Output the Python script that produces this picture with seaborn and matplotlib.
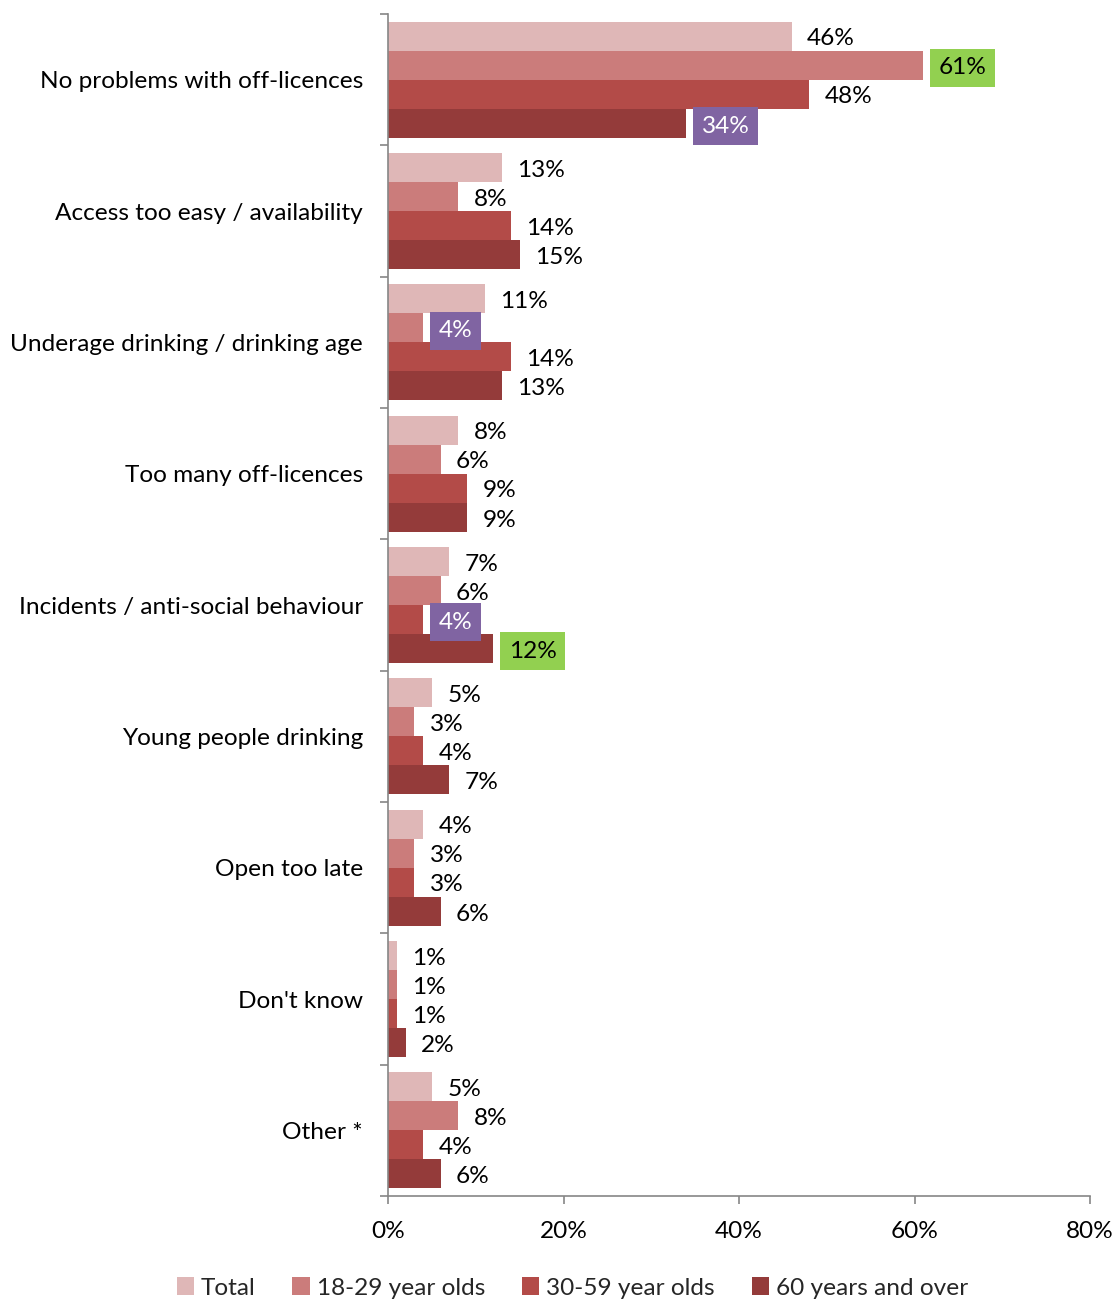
import matplotlib
matplotlib.use("Agg")
import matplotlib.pyplot as plt
from matplotlib import font_manager
from matplotlib.patches import Patch
from matplotlib.ticker import FixedLocator
import seaborn as sns
import pandas as pd

categories = [
    "No problems with off-licences",
    "Access too easy / availability",
    "Underage drinking / drinking age",
    "Too many off-licences",
    "Incidents / anti-social behaviour",
    "Young people drinking",
    "Open too late",
    "Don't know",
    "Other *",
]
groups = ["Total", "18-29 year olds", "30-59 year olds", "60 years and over"]
total = [46, 13, 11, 8, 7, 5, 4, 1, 5]
age_18_29 = [61, 8, 4, 6, 6, 3, 3, 1, 8]
age_30_59 = [48, 14, 14, 9, 4, 4, 3, 1, 4]
age_60_plus = [34, 15, 13, 9, 12, 7, 6, 2, 6]
x_ticks = [0, 20, 40, 60, 80]

# highest (green) and lowest (purple) callouts: (category index, group index)
high_marks = [(0, 1), (4, 3)]
low_marks = [(0, 3), (2, 1), (4, 2)]

colors = ["#DFB7B7", "#CB7C7B", "#B34B48", "#943B3A"]
GREEN = "#92D050"
PURPLE = "#8064A2"

series = [total, age_18_29, age_30_59, age_60_plus]
df = pd.DataFrame(
    [(c, g, v[i]) for g, v in zip(groups, series) for i, c in enumerate(categories)],
    columns=["category", "group", "value"],
)

sns.set_theme(style="white")
available = {f.name for f in font_manager.fontManager.ttflist}
base = "Liberation Sans Narrow" if "Liberation Sans Narrow" in available else "Lato"
plt.rcParams["font.family"] = [base, "DejaVu Sans"]
FS = 17.6

fig = plt.figure(figsize=(11.16, 13.0), dpi=100)
ax = fig.add_axes([388 / 1116, 1 - 1196 / 1300, (1090 - 388) / 1116, (1196 - 14) / 1300])

sns.barplot(
    data=df, x="value", y="category", hue="group", order=categories,
    hue_order=groups, palette=colors, saturation=1, width=0.885,
    orient="h", legend=False, linewidth=0, ax=ax,
)

ax.set_xlim(0, 80)
ax.set_ylim(len(categories) - 0.5, -0.5)
ax.set_xticks(x_ticks)
ax.set_xticklabels([f"{t}%" for t in x_ticks], fontsize=FS)
ax.set_xlabel("")
ax.set_ylabel("")
ax.tick_params(axis="y", which="major", length=0, pad=18, labelsize=FS, labelcolor="black")
ax.yaxis.set_minor_locator(FixedLocator([k - 0.5 for k in range(len(categories) + 1)]))
ax.tick_params(axis="y", which="minor", length=6, width=1.2, color="#868686", left=True)
ax.tick_params(axis="x", which="major", length=6, width=1.2, color="#868686",
               bottom=True, pad=12, labelcolor="black")
for side in ["top", "right"]:
    ax.spines[side].set_visible(False)
for side in ["left", "bottom"]:
    ax.spines[side].set_color("#868686")
    ax.spines[side].set_linewidth(1.2)

for gi, cont in enumerate(ax.containers):
    vals = series[gi]
    texts = ax.bar_label(cont, labels=[f"{v}%" for v in vals], padding=11,
                         fontsize=FS, color="black")
    for ci, t in enumerate(texts):
        t.xyann = (11, -2)
        if (ci, gi) in high_marks:
            t.set_bbox(dict(boxstyle="square,pad=0.35", fc=GREEN, ec="none"))
        elif (ci, gi) in low_marks:
            t.set_color("white")
            t.set_bbox(dict(boxstyle="square,pad=0.35", fc=PURPLE, ec="none"))

handles = [Patch(facecolor=c, edgecolor="none", label=g) for c, g in zip(colors, groups)]
fig.legend(handles=handles, loc="center", bbox_to_anchor=(0.513, 1 - 1288 / 1300),
           ncol=4, frameon=False, fontsize=FS, handlelength=0.7, handleheight=0.7,
           handletextpad=0.3, columnspacing=1.5)

fig.savefig("out.png", dpi=100)
